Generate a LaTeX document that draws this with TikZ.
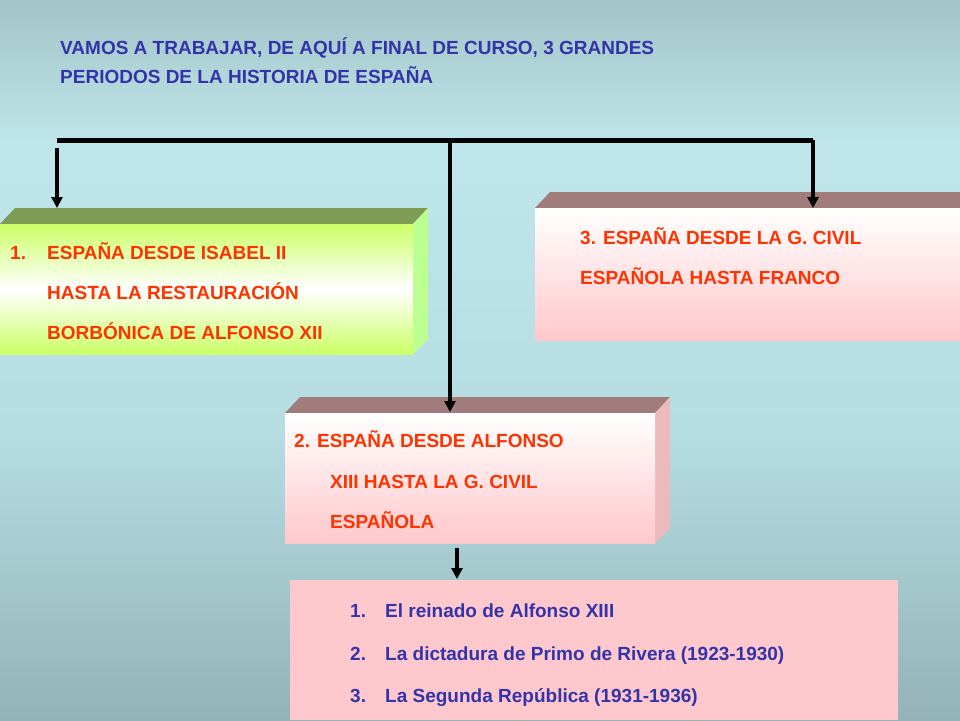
\documentclass[tikz,border=0pt]{standalone}
\usepackage{fontspec}
\setmainfont{Liberation Sans}
\usetikzlibrary{arrows.meta}
\definecolor{ttl}{HTML}{3333AA}
\definecolor{red1}{HTML}{FF3300}
\definecolor{mauve}{HTML}{A07C7C}
\definecolor{pinkk}{HTML}{FFC8CC}
\definecolor{gr}{HTML}{CCFF66}
\definecolor{grtop}{HTML}{7E9C55}
\definecolor{bgtop}{HTML}{5A6C70}
\definecolor{bgmid}{HTML}{BFE6EA}
\definecolor{bgmid2}{HTML}{B5DDE2}
\definecolor{bgbot}{HTML}{6A7E80}
\pgfdeclareverticalshading{bgsh}{100bp}{color(0bp)=(bgbot); color(45bp)=(bgmid2); color(65bp)=(bgmid); color(100bp)=(bgtop)}
\begin{document}
\begin{tikzpicture}[x=1pt,y=-1pt,
  txt/.style={font=\bfseries\fontsize{19}{19}\selectfont,anchor=base west,inner sep=0},
  bar/.style={line width=5pt},
  arr/.style={line width=3.5pt,-{Triangle[length=11pt,width=11pt]}}]
\useasboundingbox (0,0) rectangle (960,720);
\shade[shading=bgsh] (0,0) rectangle (960,720);
\node[txt,text=ttl] (title1) at (60,54) {VAMOS A TRABAJAR, DE AQUÍ A FINAL DE CURSO, 3 GRANDES};
\node[txt,text=ttl] (title2) at (60,83) {PERIODOS DE LA HISTORIA DE ESPAÑA};
% box1
\fill[grtop] (0,224)--(15,208)--(428,208)--(413,224)--cycle;
\fill[gr!70!green!60!white] (413,224)--(428,208)--(428,339)--(413,354)--cycle;
\shade[top color=gr, bottom color=gr, middle color=white] (0,224) rectangle (413,354);
\coordinate (b1) at (57,208);
\node[txt,text=red1] (t1a) at (10,259) {1.};
\node[txt,text=red1] (t1b) at (47,259) {ESPAÑA DESDE ISABEL II};
\node[txt,text=red1] (t1c) at (47,299) {HASTA LA RESTAURACIÓN};
\node[txt,text=red1] (t1d) at (47,339) {BORBÓNICA DE ALFONSO XII};
% box3
\fill[mauve] (535,208)--(550,192)--(960,192)--(960,208)--cycle;
\shade[top color=white, bottom color=pinkk] (535,208) rectangle (960,340);
\coordinate (b3) at (813,208);
\node[txt,text=red1] (t3a) at (580,244) {3. ESPAÑA DESDE LA G. CIVIL};
\node[txt,text=red1] (t3b) at (580,284) {ESPAÑOLA HASTA FRANCO};
% box2
\fill[mauve] (285,413)--(300,397)--(670,397)--(655,413)--cycle;
\fill[pinkk!80!mauve] (655,413)--(670,397)--(670,528)--(655,543)--cycle;
\shade[top color=white, bottom color=pinkk] (285,413) rectangle (655,543);
\coordinate (b2) at (450,412);
\node[txt,text=red1] (t2a) at (294,447) {2. ESPAÑA DESDE ALFONSO};
\node[txt,text=red1] (t2b) at (330,488) {XIII HASTA LA G. CIVIL};
\node[txt,text=red1] (t2c) at (330,528) {ESPAÑOLA};
% box4
\fill[pinkk] (290,580) rectangle (898,720);
\coordinate (b4) at (457,579);
\coordinate (b4s) at (457,548);
\node[txt,text=ttl] (l1) at (350,617) {1.};
\node[txt,text=ttl] (l1b) at (385,617) {El reinado de Alfonso XIII};
\node[txt,text=ttl] (l2) at (350,660) {2.};
\node[txt,text=ttl] (l2b) at (385,660) {La dictadura de Primo de Rivera (1923-1930)};
\node[txt,text=ttl] (l3) at (350,702) {3.};
\node[txt,text=ttl] (l3b) at (385,702) {La Segunda República (1931-1936)};
% connectors
\coordinate (hl) at (57,140);
\coordinate (hr) at (813,140);
\coordinate (hm) at (450,140);
\draw[bar] (hl)--(hr);
\draw[arr] (57,148)--(b1);
\draw[arr] (hm)--(b2);
\draw[arr] (hr)--(b3);
\draw[arr] (b4s)--(b4);
\end{tikzpicture}
\end{document}
